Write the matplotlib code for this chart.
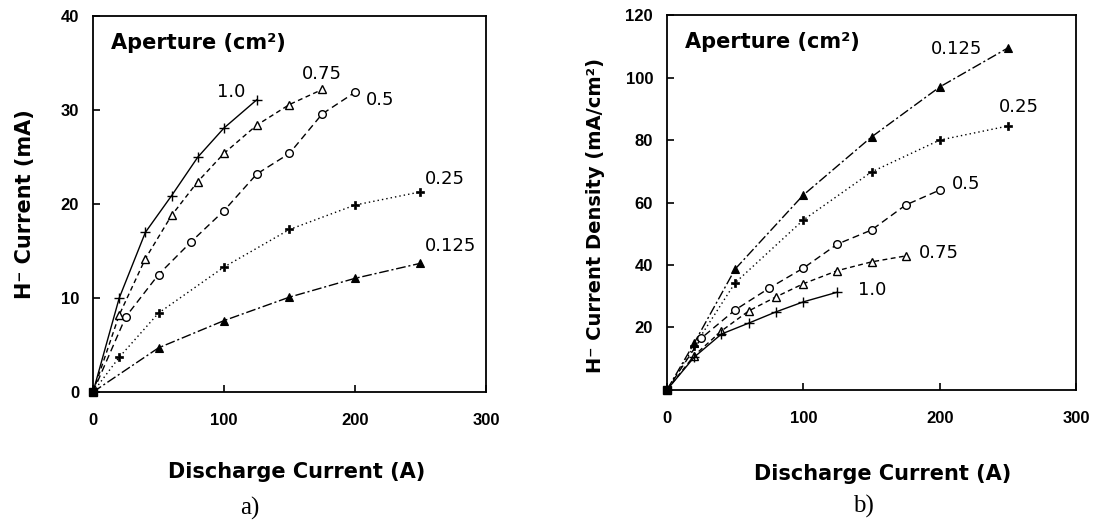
import matplotlib
matplotlib.use("Agg")
import matplotlib.pyplot as plt

# ---- data: panel a) H- current (mA) vs discharge current (A) ----
a_x_10 = [0, 20, 40, 60, 80, 100, 125]
a_y_10 = [0, 10.0, 17.0, 20.9, 25.0, 28.1, 31.1]
a_x_075 = [0, 20, 40, 60, 80, 100, 125, 150, 175]
a_y_075 = [0, 8.2, 14.2, 18.8, 22.4, 25.4, 28.4, 30.6, 32.2]
a_x_05 = [0, 25, 50, 75, 100, 125, 150, 175, 200]
a_y_05 = [0, 8.0, 12.5, 16.0, 19.3, 23.2, 25.4, 29.6, 31.9]
a_x_025 = [0, 20, 50, 100, 150, 200, 250]
a_y_025 = [0, 3.7, 8.4, 13.3, 17.3, 19.9, 21.3]
a_x_0125 = [0, 50, 100, 150, 200, 250]
a_y_0125 = [0, 4.7, 7.6, 10.1, 12.1, 13.7]

# ---- data: panel b) H- current density (mA/cm2) ----
b_x_0125 = [0, 20, 50, 100, 150, 200, 250]
b_y_0125 = [0, 15.0, 38.7, 62.4, 81.0, 97.0, 109.5]
b_x_025 = [0, 20, 50, 100, 150, 200, 250]
b_y_025 = [0, 14.0, 34.3, 54.4, 69.8, 80.0, 84.5]
b_x_05 = [0, 25, 50, 75, 100, 125, 150, 175, 200]
b_y_05 = [0, 16.5, 25.6, 32.6, 39.0, 46.7, 51.2, 59.2, 64.0]
b_x_075 = [0, 20, 40, 60, 80, 100, 125, 150, 175]
b_y_075 = [0, 11.0, 18.9, 25.3, 29.8, 34.0, 38.2, 41.0, 42.9]
b_x_10 = [0, 20, 40, 60, 80, 100, 125]
b_y_10 = [0, 10.5, 17.9, 21.4, 25.0, 28.2, 31.3]

x_ticks = [0, 100, 200, 300]
a_y_ticks = [0, 10, 20, 30, 40]
b_y_ticks = [20, 40, 60, 80, 100, 120]

plt.rcParams['font.family'] = ['DejaVu Sans']

TICK_FONT = ['Liberation Sans', 'DejaVu Sans']
LABEL_FONT = ['DejaVu Sans']
SERIF = ['Liberation Serif', 'DejaVu Serif']

fig = plt.figure(figsize=(11.06, 5.22), dpi=100)
axa = fig.add_axes([0.0841, 0.249, 0.3553, 0.720])
axb = fig.add_axes([0.603, 0.253, 0.370, 0.718])

styles = {
    '1.0': dict(ls='-', marker='+', ms=7, mew=1.0, mfc='black'),
    '0.75': dict(ls=(0, (3.5, 2.5)), marker='^', ms=5.5, mfc='white', mew=1.0),
    '0.5': dict(ls=(0, (5, 3)), marker='o', ms=5.5, mfc='white', mew=1.0),
    '0.25': dict(ls=(0, (1, 2.2)), marker='P', ms=6, mfc='black', mew=0.5),
    '0.125': dict(ls=(0, (7, 2, 1.5, 2)), marker='^', ms=6, mfc='black', mew=0.8),
}

def draw(ax, series):
    for key, xs, ys in series:
        st = styles[key]
        ax.plot(xs, ys, color='black', lw=1.0, linestyle=st['ls'],
                marker=st['marker'], markersize=st['ms'],
                markerfacecolor=st['mfc'], markeredgecolor='black',
                markeredgewidth=st['mew'], zorder=3)
    ax.plot([0], [0], marker='s', color='black', ms=6, zorder=4, clip_on=False)

draw(axa, [('1.0', a_x_10, a_y_10), ('0.75', a_x_075, a_y_075),
           ('0.5', a_x_05, a_y_05), ('0.25', a_x_025, a_y_025),
           ('0.125', a_x_0125, a_y_0125)])
draw(axb, [('0.125', b_x_0125, b_y_0125), ('0.25', b_x_025, b_y_025),
           ('0.5', b_x_05, b_y_05), ('0.75', b_x_075, b_y_075),
           ('1.0', b_x_10, b_y_10)])

for ax, yt, ylim in [(axa, a_y_ticks, (0, 40)), (axb, b_y_ticks, (0, 120))]:
    ax.set_xlim(0, 300)
    ax.set_ylim(*ylim)
    ax.set_xticks(x_ticks)
    ax.set_yticks(yt)
    ax.tick_params(direction='in', length=5, width=1.2, labelsize=12)
    ax.tick_params(axis='x', pad=15)
    ax.tick_params(axis='y', pad=10)
    for lab in ax.get_xticklabels() + ax.get_yticklabels():
        lab.set_fontweight('bold')
        lab.set_family(TICK_FONT)
    for s in ax.spines.values():
        s.set_linewidth(1.3)
    ax.text(0.045, 0.955, 'Aperture (cm²)', transform=ax.transAxes,
            fontsize=15, fontweight='bold', va='top', ha='left', family=LABEL_FONT)

axa.set_xlabel('Discharge Current (A)', fontsize=15, fontweight='bold', family=LABEL_FONT,
               va='center')
axa.xaxis.set_label_coords(0.519, -0.213)
axb.set_xlabel('Discharge Current (A)', fontsize=15, fontweight='bold', family=LABEL_FONT,
               va='center')
axb.xaxis.set_label_coords(0.528, -0.225)

axa.set_ylabel('H⁻ Current (mA)', fontsize=15, fontweight='bold', family=LABEL_FONT,
               va='center')
axa.yaxis.set_label_coords(-0.172, 0.5)
axb.set_ylabel('H⁻ Current Density (mA/cm²)', fontsize=14, fontweight='bold',
               family=LABEL_FONT, va='center')
axb.yaxis.set_label_coords(-0.175, 0.465)

# curve labels, panel a
lab_kw = dict(fontsize=13, color='black', family=LABEL_FONT)
axa.text(116, 31.9, '1.0', ha='right', va='center', **lab_kw)
axa.text(175, 33.8, '0.75', ha='center', va='center', **lab_kw)
axa.text(208, 31.1, '0.5', ha='left', va='center', **lab_kw)
axa.text(253, 22.7, '0.25', ha='left', va='center', **lab_kw)
axa.text(253, 15.5, '0.125', ha='left', va='center', **lab_kw)

# curve labels, panel b
axb.text(212, 109, '0.125', ha='center', va='center', **lab_kw)
axb.text(258, 90.5, '0.25', ha='center', va='center', **lab_kw)
axb.text(209, 66, '0.5', ha='left', va='center', **lab_kw)
axb.text(185, 44, '0.75', ha='left', va='center', **lab_kw)
axb.text(140, 32, '1.0', ha='left', va='center', **lab_kw)

fig.text(250 / 1106, 1 - 508 / 522, 'a)', fontsize=18, family=SERIF,
         ha='center', va='center')
fig.text(863 / 1106, 1 - 506 / 522, 'b)', fontsize=18, family=SERIF,
         ha='center', va='center')

fig.savefig('out.png', dpi=100, facecolor='white')
